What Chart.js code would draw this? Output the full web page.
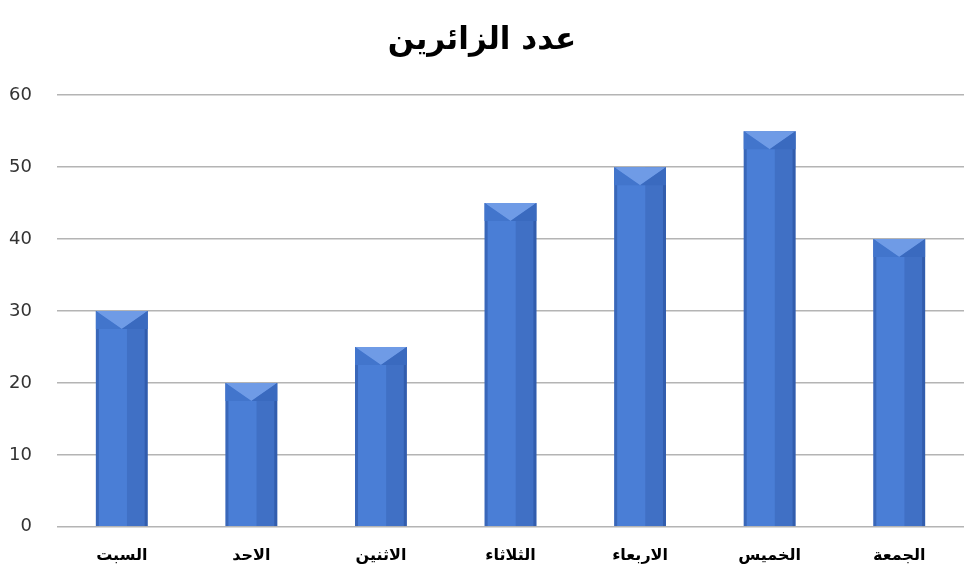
<!DOCTYPE html>
<html>
<head>
<meta charset="utf-8">
<script src="https://cdn.jsdelivr.net/npm/chart.js@4.4.0/dist/chart.umd.min.js"></script>
<style>
  html, body { margin: 0; padding: 0; background: #fff; }
  #wrap { width: 976px; height: 583px; }
</style>
</head>
<body>
<div id="wrap"><canvas id="myChart" width="976" height="583"></canvas></div>
<script>
var days = ['السبت', 'الاحد', 'الاثنين', 'الثلاثاء', 'الاربعاء', 'الخميس', 'الجمعة'];
var visitors = [30, 20, 25, 45, 50, 55, 40];
var yTicks = [0, 10, 20, 30, 40, 50, 60];

var ctx = document.getElementById('myChart').getContext('2d');

// bevelled top + side shading, drawn on top of the library's bars
const bevelPlugin = {
    id: 'bevel',
    afterDatasetsDraw(chart) {
        const c = chart.ctx;
        const meta = chart.getDatasetMeta(0);
        meta.data.forEach(bar => {
            const w = bar.width;
            const left = bar.x - w / 2;
            const right = bar.x + w / 2;
            const top = bar.y;
            const bottom = bar.base;
            const cap = 18;
            c.save();
            // right side darker strip
            c.fillStyle = 'rgba(20, 50, 120, 0.18)';
            c.fillRect(bar.x + w * 0.1, top, right - (bar.x + w * 0.1), bottom - top);
            // edges
            c.fillStyle = 'rgba(20, 50, 120, 0.3)';
            c.fillRect(left, top, 3, bottom - top);
            c.fillRect(right - 3, top, 3, bottom - top);
            // top cap
            c.beginPath();
            c.moveTo(left, top);
            c.lineTo(right, top);
            c.lineTo(bar.x, top + cap);
            c.closePath();
            c.fillStyle = '#6f9be6';
            c.fill();
            c.beginPath();
            c.moveTo(left, top);
            c.lineTo(bar.x, top + cap);
            c.lineTo(left, top + cap);
            c.closePath();
            c.fillStyle = '#4275cc';
            c.fill();
            c.beginPath();
            c.moveTo(right, top);
            c.lineTo(bar.x, top + cap);
            c.lineTo(right, top + cap);
            c.closePath();
            c.fillStyle = '#3a6abf';
            c.fill();
            c.restore();
        });
    }
};

var myChart = new Chart(ctx, {
    type: 'bar',
    data: {
        labels: days,
        datasets: [{
            label: 'عدد الزائرين',
            data: visitors,
            backgroundColor: '#4a7ed6',
            borderWidth: 0,
            barPercentage: 0.4,
            categoryPercentage: 1.0
        }]
    },
    options: {
        responsive: false,
        animation: false,
        layout: { padding: { left: 0, right: 12, top: 0, bottom: 7 } },
        plugins: {
            legend: { display: false },
            tooltip: { enabled: false },
            title: {
                display: true,
                text: 'عدد الزائرين',
                color: '#000',
                font: { family: 'DejaVu Sans', size: 31, weight: 'bold' },
                padding: { top: 22, bottom: 36 }
            }
        },
        scales: {
            x: {
                grid: { display: false },
                border: { display: false },
                ticks: {
                    color: '#000',
                    padding: 11,
                    font: { family: 'DejaVu Sans', size: 16, weight: 'bold' }
                }
            },
            y: {
                min: 0,
                max: 60,
                afterBuildTicks: axis => { axis.ticks = yTicks.map(v => ({ value: v })); },
                afterFit: axis => { axis.width = 57; },
                grid: { color: '#b4b4b4', lineWidth: 1.5, drawTicks: false },
                border: { display: false },
                ticks: {
                    color: '#333',
                    padding: 25,
                    font: { family: 'DejaVu Sans', size: 18 }
                }
            }
        }
    },
    plugins: [bevelPlugin]
});
</script>
</body>
</html>
